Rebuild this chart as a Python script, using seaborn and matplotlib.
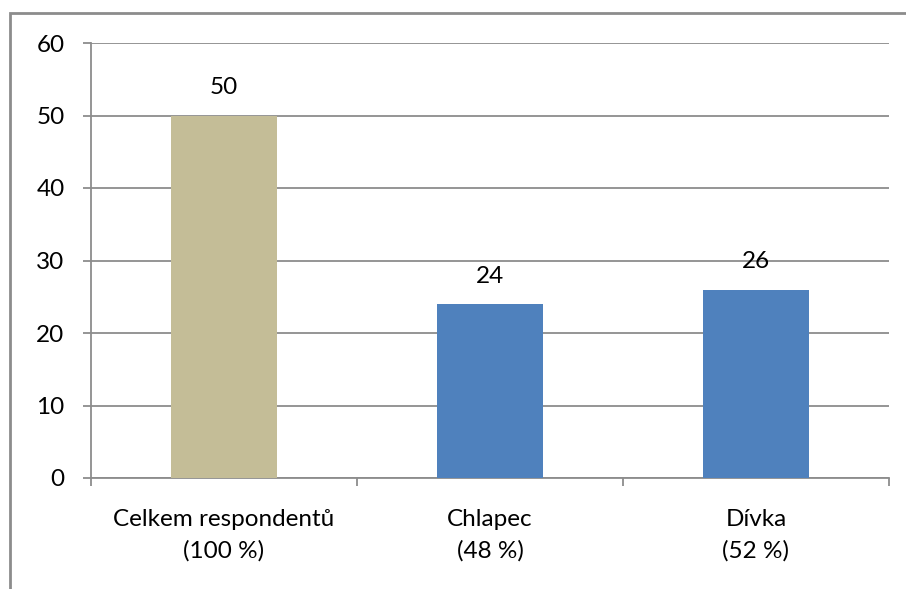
import matplotlib
matplotlib.use("Agg")
import matplotlib.pyplot as plt
import seaborn as sns
import pandas as pd
from matplotlib.patches import Rectangle

categories = ["Celkem respondentů\n(100 %)", "Chlapec\n(48 %)", "Dívka\n(52 %)"]
values = [50, 24, 26]
colors = ["#C4BD97", "#4F81BD", "#4F81BD"]
yticks = [0, 10, 20, 30, 40, 50, 60]

sns.set_theme(style="white")
plt.rcParams["font.family"] = ["Lato", "DejaVu Sans"]

df = pd.DataFrame({"cat": categories, "val": values})

fig = plt.figure(figsize=(9.06, 5.89), dpi=100)
ax = fig.add_axes([91/906, 1 - 478/589, (889 - 91)/906, (478 - 43)/589])

sns.barplot(data=df, x="cat", y="val", hue="cat", palette=colors, legend=False,
            width=0.4, saturation=1, linewidth=0, ax=ax, zorder=3)

gray = "#8C8C8C"
ax.set_ylim(0, 60)
ax.set_yticks(yticks)
ax.set_xlim(-0.5, 2.5)
ax.yaxis.grid(True, color=gray, linewidth=1.3, zorder=0)
ax.set_axisbelow(True)
for s in ["top", "right"]:
    ax.spines[s].set_visible(False)
for s in ["left", "bottom"]:
    ax.spines[s].set_color(gray)
    ax.spines[s].set_linewidth(1.3)

ax.set_xticks([-0.5, 0.5, 1.5, 2.5], minor=False)
ax.set_xticklabels([])
ax.set_xticks([0, 1, 2], minor=True)
ax.set_xticklabels(categories, minor=True, fontsize=17.5, color="black", linespacing=1.6)
ax.tick_params(axis="x", which="minor", length=0, pad=22)
ax.tick_params(axis="x", which="major", direction="out", length=6, width=1.3, color=gray, bottom=True)
ax.tick_params(axis="y", direction="out", length=6, width=1.3, color=gray, left=True,
               labelsize=17.5, labelcolor="black", pad=13)
ax.set_xlabel("")
ax.set_ylabel("")

for i, v in enumerate(values):
    ax.text(i, v + 2.4, str(v), ha="center", va="bottom", fontsize=17.5, color="black")

fig.patches.append(Rectangle((10/906, -0.1), 1.2, 1 - 13/589 + 0.1, transform=fig.transFigure,
                             fill=False, edgecolor=gray, linewidth=2, zorder=0))

fig.savefig("out.png", dpi=100)
